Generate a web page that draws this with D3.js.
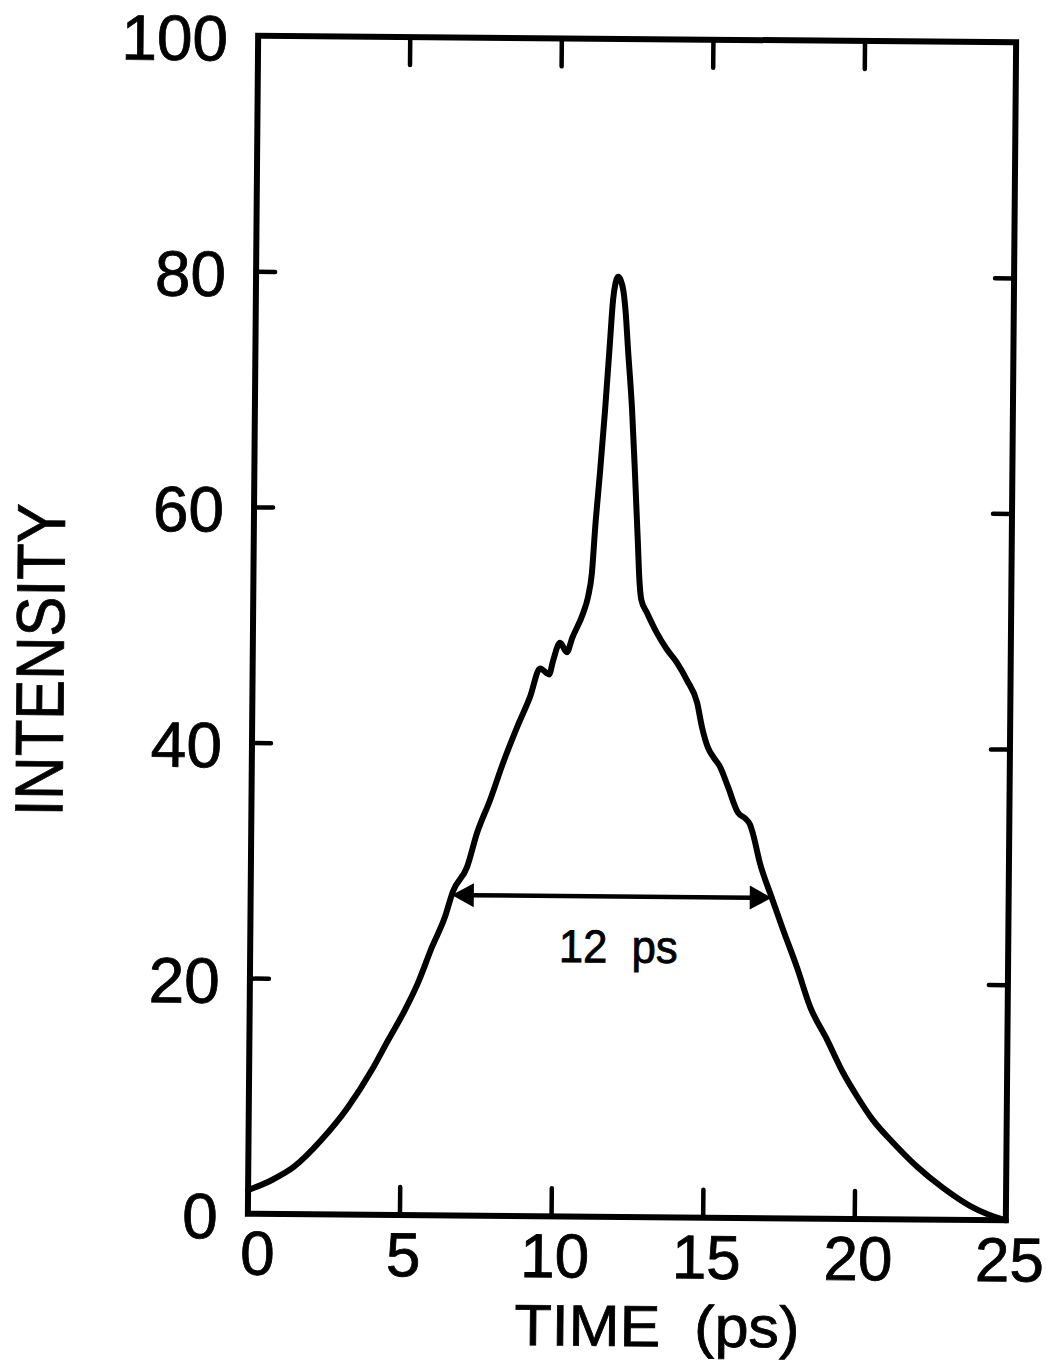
<!DOCTYPE html>
<html>
<head>
<meta charset="utf-8">
<script src="https://cdn.jsdelivr.net/npm/d3@7"></script>
<style>
  html, body { margin: 0; padding: 0; background: #fff; }
  svg { display: block; }
  text { font-family: "Liberation Sans", Arial, sans-serif; fill: #000; stroke: #000; stroke-width: 0.8px; }
</style>
</head>
<body>
<svg id="chart" width="1047" height="1361"></svg>
<script>
// Streak-camera trace: intensity vs time
const timePs = [0, 0.8, 1.5, 2.4, 3.27, 4.05, 4.57, 5.12, 5.54, 6.0, 6.41, 6.67, 7.13, 7.45, 7.87,
  8.28, 8.74, 9.16, 9.48, 9.78, 9.91, 10.13, 10.36, 10.53, 10.88, 11.04, 11.16, 11.26, 11.4,
  11.55, 11.69, 11.78, 11.86, 11.94, 12.03, 12.12, 12.2, 12.29, 12.44, 12.56, 12.67, 12.72, 12.8,
  12.99, 13.32, 13.66, 13.99, 14.33, 14.67, 14.84, 15.04, 15.25, 15.44, 15.71, 16.05, 16.3,
  16.45, 16.55, 16.79, 17.13, 17.57, 18.04, 18.48, 19.05, 19.59, 20.06, 20.59, 21.26, 22.05,
  22.92, 23.81, 24.4, 25];
const intensity = [2.0, 2.9, 4.0, 6.3, 9.1, 12.3, 14.8, 17.4, 19.7, 22.8, 25.3, 27.5, 29.6, 32.5, 35.3,
  38.4, 41.5, 44.1, 46.5, 46.0, 47.2, 48.7, 47.9, 49.1, 51.2, 52.6, 54.6, 58.6, 63.2,
  68.5, 74.2, 77.8, 79.3, 79.8, 79.5, 78.6, 76.8, 73.6, 68.5, 62.8, 57.2, 54.5, 52.4,
  51.3, 49.6, 48.2, 47.1, 45.6, 43.7, 41.6, 39.9, 39.0, 38.3, 36.6, 34.4, 33.9,
  33.4, 32.6, 30.1, 27.6, 24.5, 21.3, 18.0, 15.2, 12.4, 10.4, 8.4, 6.5, 4.5,
  2.7, 1.2, 0.5, 0.0];

const xTicks = [0, 5, 10, 15, 20, 25];
const yTicks = [0, 20, 40, 60, 80, 100];
const xTickLabels = ["0", "5", "10", "15", "20", "25"];
const yTickLabels = ["0", "20", "40", "60", "80", "100"];
const xTitle = "TIME  (ps)";
const yTitle = "INTENSITY";

// Width marker at the level where the pulse is measured
const widthLevel = 27.2;
const widthLabel = "12 ps";

const svg = d3.select("#chart");
const L = 253, R = 1011, T = 39, B = 1217;
const x = d3.scaleLinear().domain([0, 25]).range([L, R]);
const y = d3.scaleLinear().domain([0, 100]).range([B, T]);

// The whole plate sits slightly tilted on the page
const g = svg.append("g").attr("transform", "rotate(0.5, 632, 628)");

// Frame
g.append("rect")
  .attr("x", L).attr("y", T).attr("width", R - L).attr("height", B - T)
  .attr("fill", "none").attr("stroke", "#000").attr("stroke-width", 6);

// Inward ticks
function styleAxis(sel) {
  sel.select(".domain").remove();
  sel.selectAll(".tick line").attr("stroke", "#000").attr("stroke-width", 4.5).attr("stroke-linecap", "round");
  sel.selectAll(".tick text").remove();
}
const innerX = xTicks.filter(v => v > 0 && v < 25);
const innerY = yTicks.filter(v => v > 0 && v < 100);
g.append("g").attr("transform", `translate(0,${B})`)
  .call(d3.axisBottom(x).tickValues(innerX).tickSize(-28).tickFormat("")).call(styleAxis);
g.append("g").attr("transform", `translate(0,${T})`)
  .call(d3.axisTop(x).tickValues(innerX).tickSize(-28).tickFormat("")).call(styleAxis);
g.append("g").attr("transform", `translate(${L},0)`)
  .call(d3.axisLeft(y).tickValues(innerY).tickSize(-19).tickFormat("")).call(styleAxis);
g.append("g").attr("transform", `translate(${R},0)`)
  .call(d3.axisRight(y).tickValues(innerY).tickSize(-19).tickFormat("")).call(styleAxis);

// Tick labels
g.append("g").selectAll("text").data(xTicks).join("text")
  .attr("x", d => x(d) + (d === 0 ? 10 : 4)).attr("y", B + 61)
  .attr("text-anchor", "middle").attr("font-size", 62)
  .text((d, i) => xTickLabels[i]);
g.append("g").selectAll("text").data(yTicks).join("text")
  .attr("x", L - 30).attr("y", d => y(d) + 25)
  .attr("text-anchor", "end").attr("font-size", 64)
  .text((d, i) => yTickLabels[i]);

// Axis titles
g.append("text")
  .attr("x", 663).attr("y", 1346).attr("text-anchor", "middle")
  .attr("font-size", 58).attr("textLength", 285).attr("lengthAdjust", "spacingAndGlyphs")
  .style("white-space", "pre").text(xTitle);
g.append("text")
  .attr("transform", "translate(64,665) rotate(-90)")
  .attr("text-anchor", "middle").attr("font-size", 68)
  .attr("textLength", 313).attr("lengthAdjust", "spacingAndGlyphs")
  .text(yTitle);

// Trace
const pts = timePs.map((t, i) => [t, intensity[i]]);
g.append("path")
  .datum(pts)
  .attr("d", d3.line().x(d => x(d[0])).y(d => y(d[1])).curve(d3.curveMonotoneX))
  .attr("fill", "none").attr("stroke", "#000").attr("stroke-width", 6)
  .attr("stroke-linejoin", "round").attr("stroke-linecap", "round");

// Crossings of the trace with the width level
function crossing(fromLeft) {
  const idx = d3.range(pts.length - 1);
  const order = fromLeft ? idx : idx.reverse();
  for (const i of order) {
    const [t0, v0] = pts[i], [t1, v1] = pts[i + 1];
    if ((v0 - widthLevel) * (v1 - widthLevel) <= 0 && v0 !== v1) {
      return t0 + (widthLevel - v0) / (v1 - v0) * (t1 - t0);
    }
  }
  return null;
}
const tA = crossing(true), tB = crossing(false);
const ay = y(widthLevel);
const headLen = 22, headHalf = 12;
g.append("line")
  .attr("x1", x(tA) + headLen - 2).attr("x2", x(tB) - headLen + 2)
  .attr("y1", ay).attr("y2", ay)
  .attr("stroke", "#000").attr("stroke-width", 4.5);
g.append("path")
  .attr("d", `M${x(tA)},${ay} L${x(tA) + headLen},${ay - headHalf} L${x(tA) + headLen},${ay + headHalf} Z`)
  .attr("fill", "#000");
g.append("path")
  .attr("d", `M${x(tB)},${ay} L${x(tB) - headLen},${ay - headHalf} L${x(tB) - headLen},${ay + headHalf} Z`)
  .attr("fill", "#000");
g.append("text")
  .attr("x", x((tA + tB) / 2) + 7).attr("y", y(21.6))
  .attr("text-anchor", "middle").attr("font-size", 46)
  .attr("textLength", 119).attr("lengthAdjust", "spacingAndGlyphs")
  .style("white-space", "pre").text(widthLabel.replace(" ", "  "));
</script>
</body>
</html>
